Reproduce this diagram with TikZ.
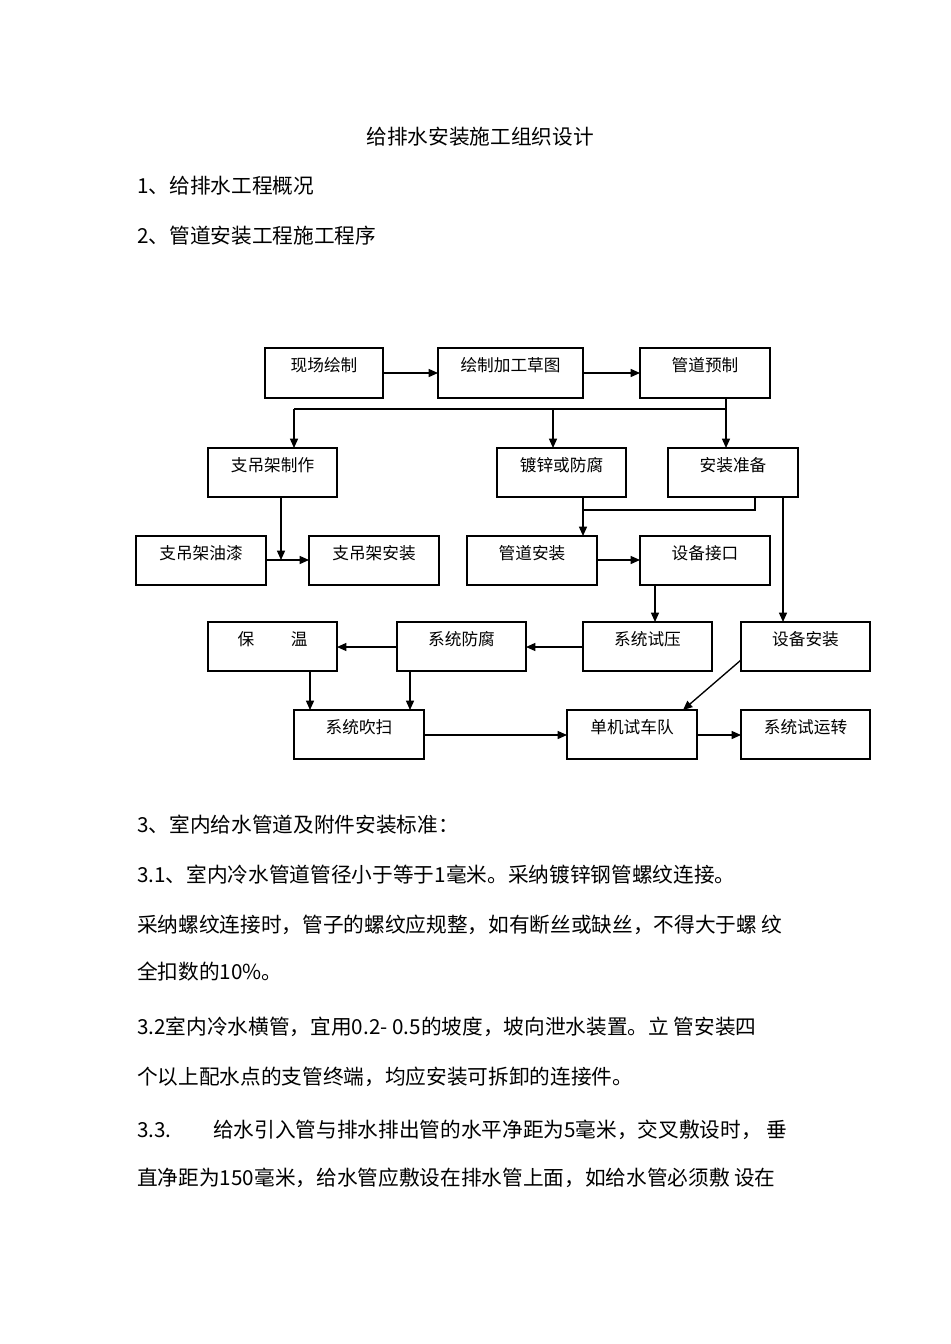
\documentclass[tikz,border=0pt]{standalone}
\usepackage{fontspec}
\setmainfont{Noto Sans CJK SC}
\newfontfamily\cjk{Noto Sans CJK SC}
\usetikzlibrary{arrows.meta}
\begin{document}
\begin{tikzpicture}[x=0.75pt,y=-0.75pt,
  bx/.style={draw,line width=1.1pt},
  lbl/.style={anchor=north,font=\fontsize{12.5}{14}\selectfont,inner sep=0pt},
  ar/.style={draw,line width=1pt,-{Triangle[length=7pt,width=6pt]}},
  ln/.style={draw,line width=1pt},
  body/.style={anchor=west,font=\fontsize{15.5}{18}\selectfont,inner sep=0pt}]
\useasboundingbox (0,0) rectangle (950,1344);
\fill[white] (0,0) rectangle (950,1344);
% boxes
\foreach \n/\xa/\ya/\xb/\yb/\t in {
 a/265/348/383/398/现场绘制,
 b/438/348/583/398/绘制加工草图,
 c/640/348/770/398/管道预制,
 d/208/448/337/497/支吊架制作,
 e/497/448/626/497/镀锌或防腐,
 f/668/448/798/497/安装准备,
 g/136/536/266/585/支吊架油漆,
 h/309/536/439/585/支吊架安装,
 i/467/536/597/585/管道安装,
 j/640/536/770/585/设备接口,
 k/208/622/337/671/保\hspace{2.2em}温,
 l/397/622/526/671/系统防腐,
 m/583/622/712/671/系统试压,
 n/741/622/870/671/设备安装,
 o/294/710/424/759/系统吹扫,
 p/567/710/697/759/单机试车队,
 q/741/710/870/759/系统试运转}{
 \draw[bx] (\xa,\ya) rectangle (\xb,\yb);
 \coordinate (\n-nw) at (\xa,\ya);
 \coordinate (\n-se) at (\xb,\yb);
 \node[lbl] (\n) at ({(\xa+\xb)/2},{\ya+9}) {\t};
}
% row1
\draw[ar] (383,373) -- (438,373);
\draw[ar] (583,373) -- (640,373);
\draw[ar] (726,398) -- (726,448);
\draw[ln] (294,409) -- (726,409);
\draw[ar] (294,409) -- (294,448);
\draw[ar] (553,409) -- (553,448);
% row2
\draw[ar] (281,497) -- (281,560);
\draw[ar] (266,560) -- (309,560);
\draw[ln] (755,497) -- (755,510) -- (583,510);
\draw[ar] (583,497) -- (583,536);
\draw[ar] (783,497) -- (783,622);
\draw[ar] (597,560) -- (640,560);
\draw[ar] (655,585) -- (655,622);
% row3
\draw[ar] (583,647) -- (526,647);
\draw[ar] (397,647) -- (337,647);
\draw[ar] (310,671) -- (310,710);
\draw[ar] (410,671) -- (410,710);
\draw[ar] (741,660) -- (683,710);
\draw[ar] (424,735) -- (567,735);
\draw[ar] (697,735) -- (741,735);
% text
\node[anchor=center,font=\fontsize{15.5}{18}\selectfont,inner sep=0pt] (title) at (480,137) {给排水安装施工组织设计};
\node[body] (t1) at (137,186) {1、给排水工程概况};
\node[body] (t2) at (137,236) {2、管道安装工程施工程序};
\node[body] (t3) at (137,825) {3、室内给水管道及附件安装标准：};
\node[body] (t4) at (137,875) {3.1、室内冷水管道管径小于等于1毫米。采纳镀锌钢管螺纹连接。};
\node[body] (t5) at (137,925) {采纳螺纹连接时，管子的螺纹应规整，如有断丝或缺丝，不得大于螺\ 纹};
\node[body] (t6) at (137,972) {全扣数的10\%。};
\node[body] (t7) at (137,1027) {3.2室内冷水横管，宜用0.2- 0.5的坡度，坡向泄水装置。立\ 管安装四};
\node[body] (t8) at (137,1077) {个以上配水点的支管终端，均应安装可拆卸的连接件。};
\node[body] (t9) at (137,1130) {3.3.\hspace{2em}给水引入管与排水排出管的水平净距为5毫米，交叉敷设时，\ 垂};
\node[body] (t10) at (137,1178) {直净距为150毫米，给水管应敷设在排水管上面，如给水管必须敷\ 设在};
\end{tikzpicture}
\end{document}
